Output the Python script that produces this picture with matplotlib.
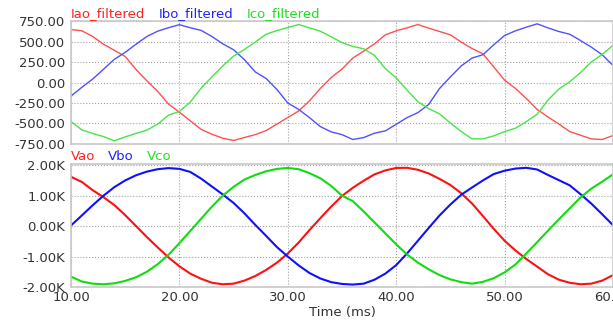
import matplotlib
matplotlib.use("Agg")
import matplotlib.pyplot as plt

# sample times (ms)
time_ms = list(range(10, 61))

# top panel: filtered currents
iao = [650, 635, 565, 470, 395, 320, 160, 20, -110, -265, -365, -470, -575, -635, -684, -712,
       -675, -640, -590, -510, -430, -350, -225, -73, 60, 165, 300, 386, 475, 585, 634, 671,
       712, 667, 626, 585, 496, 417, 353, 191, 28, -73, -196, -330, -423, -509, -602, -647,
       -692, -700, -651]
ibo = [-167, -59, 42, 163, 285, 370, 470, 565, 630, 673, 710, 672, 640, 565, 475, 402,
       280, 130, 49, -86, -252, -330, -431, -541, -606, -640, -700, -676, -622, -594, -513,
       -431, -370, -269, -73, 69, 204, 300, 341, 463, 577, 634, 679, 720, 671, 626, 593,
       516, 434, 341, 210]
ico = [-480, -582, -626, -664, -716, -668, -625, -585, -510, -400, -356, -240, -70, 69, 204,
       325, 406, 496, 593, 638, 675, 712, 671, 630, 561, 490, 443, 414, 333, 170, 57, -93,
       -236, -321, -386, -497, -602, -692, -692, -655, -602, -561, -480, -390, -216, -81, 8,
       122, 252, 345, 455]

# bottom panel: voltages
vao = [1620, 1450, 1180, 950, 690, 360, 0, -360, -700, -1030, -1320, -1560, -1730, -1860,
       -1910, -1890, -1790, -1640, -1440, -1200, -900, -540, -130, 260, 640, 990, 1260, 1490,
       1700, 1830, 1910, 1915, 1850, 1730, 1550, 1350, 1080, 740, 330, -90, -480, -800, -1080,
       -1330, -1580, -1760, -1860, -1910, -1890, -1790, -1610]
vbo = [20, 350, 685, 1000, 1280, 1500, 1670, 1790, 1870, 1905, 1880, 1780, 1560, 1300, 1040,
       760, 420, 40, -320, -690, -1000, -1290, -1540, -1720, -1840, -1900, -1920, -1890,
       -1760, -1560, -1280, -900, -480, -60, 350, 710, 1030, 1270, 1500, 1710, 1820, 1890,
       1915, 1860, 1680, 1510, 1340, 1050, 740, 390, 30]
vco = [-1660, -1820, -1890, -1910, -1880, -1800, -1680, -1500, -1250, -940, -560, -160, 240,
       640, 1000, 1290, 1530, 1680, 1800, 1880, 1910, 1870, 1740, 1570, 1320, 1000, 820, 480,
       120, -240, -600, -930, -1200, -1420, -1610, -1750, -1840, -1890, -1830, -1710, -1520,
       -1260, -900, -530, -150, 220, 580, 940, 1230, 1460, 1700]

top_labels = ["Iao_filtered", "Ibo_filtered", "Ico_filtered"]
bot_labels = ["Vao", "Vbo", "Vco"]
top_yticks = [750, 500, 250, 0, -250, -500, -750]
top_yticklabels = ["750.00", "500.00", "250.00", "0.00", "-250.00", "-500.00", "-750.00"]
bot_yticks = [2000, 1000, 0, -1000, -2000]
bot_yticklabels = ["2.00K", "1.00K", "0.00K", "-1.00K", "-2.00K"]
xticks = [10, 20, 30, 40, 50, 60]
xticklabels = ["10.00", "20.00", "30.00", "40.00", "50.00", "60.00"]

plt.rcParams['font.family'] = ['DejaVu Sans']

fig = plt.figure(figsize=(6.13, 3.21), dpi=100)
W, H = 613, 321
ax1 = fig.add_axes([71 / W, (H - 144) / H, 542 / W, 123 / H])
ax2 = fig.add_axes([71 / W, (H - 287) / H, 542 / W, 123 / H])

top_colors = ['#ff5050', '#5050ff', '#45e645']
bot_colors = ['#ff1010', '#1010ff', '#10dc10']
text_colors = ['#ff2020', '#2020ff', '#20e020']

for s, c in zip([iao, ibo, ico], top_colors):
    ax1.plot(time_ms, s, color=c, lw=1.0)
for s, c in zip([vao, vbo, vco], bot_colors):
    ax2.plot(time_ms, s, color=c, lw=1.5)

for ax in (ax1, ax2):
    ax.set_xlim(10, 60)
    ax.set_xticks(xticks)
    ax.grid(True, linestyle=':', color='#a0a0a0', lw=0.8)
    for sp in ax.spines.values():
        sp.set_color('#c8c8c8')
        sp.set_linewidth(1.2)
    ax.tick_params(length=0, labelsize=9.5, colors='#333333', pad=4)

ax1.set_ylim(-755, 755)
ax1.set_yticks(top_yticks)
ax1.set_yticklabels(top_yticklabels)
ax1.tick_params(axis='x', labelbottom=False)

ax2.set_ylim(-2000, 2040)
ax2.set_yticks(bot_yticks)
ax2.set_yticklabels(bot_yticklabels)
ax2.set_xticklabels(xticklabels)
ax2.tick_params(axis='x', pad=3)
ax2.set_xlabel("Time (ms)", fontsize=9.5, color='#333333', labelpad=1)

# coloured series labels above each panel
top_x = [71, 159, 247]
for lbl, x, c in zip(top_labels, top_x, text_colors):
    fig.text(x / W, (H - 17) / H, lbl, color=c, fontsize=9.5, ha='left', va='baseline')
bot_x = [71, 108, 147]
for lbl, x, c in zip(bot_labels, bot_x, text_colors):
    fig.text(x / W, (H - 160) / H, lbl, color=c, fontsize=9.5, ha='left', va='baseline')

fig.savefig("out.png", dpi=100)
